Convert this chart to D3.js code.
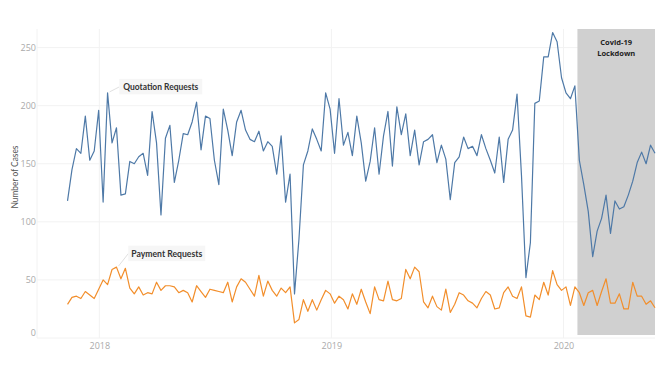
<!DOCTYPE html>
<html>
<head>
<meta charset="utf-8">
<script src="https://cdn.jsdelivr.net/npm/d3@7"></script>
<style>
  body { margin: 0; background: #fff; }
  svg { display: block; font-family: "Open Sans", sans-serif; }
</style>
</head>
<body>
<svg id="chart" width="660" height="370"></svg>
<script>
// Weekly counts, first week starting 2017-11-12
const quotationRequests = [
  118, 145, 163, 159, 191, 153, 161, 196, 117, 211, 168, 181, 123, 124, 152, 150,
  156, 159, 140, 195, 168, 106, 172, 183, 134, 153, 176, 175, 186, 203, 162, 191,
  189, 153, 132, 197, 179, 157, 186, 196, 179, 171, 169, 178, 161, 169, 165, 141,
  174, 117, 141, 38, 85, 149, 161, 180, 171, 161, 211, 197, 159, 206, 166, 177,
  157, 191, 168, 135, 152, 181, 141, 174, 195, 148, 199, 175, 193, 157, 179, 149,
  169, 171, 175, 151, 166, 154, 119, 151, 156, 173, 163, 165, 157, 175, 163, 153,
  142, 173, 134, 171, 179, 210, 140, 52, 82, 202, 204, 242, 242, 263, 255, 224,
  211, 206, 217, 153, 132, 109, 70, 92, 103, 123, 90, 118, 111, 113, 123, 135,
  151, 160, 150, 166, 159
];
const paymentRequests = [
  29, 35, 36, 34, 40, 37, 34, 42, 50, 46, 59, 61, 51, 60, 43, 38,
  44, 37, 39, 38, 48, 41, 45, 45, 44, 39, 41, 39, 31, 45, 40, 35,
  42, 41, 40, 39, 48, 31, 44, 51, 48, 42, 36, 54, 36, 49, 41, 36,
  43, 39, 44, 13, 16, 33, 23, 33, 24, 33, 41, 38, 30, 36, 33, 25,
  38, 29, 42, 31, 21, 44, 33, 32, 49, 33, 32, 34, 59, 51, 61, 57,
  31, 26, 36, 27, 24, 42, 22, 29, 39, 37, 32, 30, 26, 34, 40, 37,
  25, 26, 39, 44, 36, 34, 44, 19, 18, 37, 33, 48, 37, 58, 46, 41,
  44, 28, 44, 39, 28, 39, 41, 28, 40, 51, 30, 30, 38, 25, 25, 48,
  36, 36, 29, 32, 26
];
const weeks = d3.utcWeek.range(new Date(Date.UTC(2017, 10, 12)), new Date(Date.UTC(2020, 4, 25)));
const yTicks = [0, 50, 100, 150, 200, 250];
const yearTicks = [2018, 2019, 2020].map(yr => new Date(Date.UTC(yr, 0, 1)));
const lockdownStart = new Date(Date.UTC(2020, 0, 23));

const svg = d3.select("#chart");
const plotLeft = 37, plotRight = 655, plotTop = 29, plotBottom = 338;

const x = d3.scaleUtc()
    .domain([new Date(Date.UTC(2017, 8, 25)), new Date(Date.UTC(2020, 4, 24))])
    .range([plotLeft, plotRight]);
const y = d3.scaleLinear().domain([0, 266]).range([plotBottom, plotTop]);

// gridlines
svg.append("g").selectAll("line").data(yTicks).join("line")
    .attr("x1", plotLeft).attr("x2", plotRight)
    .attr("y1", d => y(d)).attr("y2", d => y(d))
    .attr("stroke", "#f2f2f2").attr("stroke-width", 1);
svg.append("g").selectAll("line").data(yearTicks).join("line")
    .attr("x1", d => x(d)).attr("x2", d => x(d))
    .attr("y1", plotTop).attr("y2", plotBottom)
    .attr("stroke", "#f2f2f2").attr("stroke-width", 1);
svg.append("line")
    .attr("x1", plotLeft).attr("x2", plotLeft).attr("y1", plotTop).attr("y2", plotBottom)
    .attr("stroke", "#f2f2f2");

// lockdown shading
svg.append("rect")
    .attr("x", x(lockdownStart)).attr("y", plotTop)
    .attr("width", plotRight - x(lockdownStart)).attr("height", plotBottom - plotTop - 3)
    .attr("fill", "#d0d0d0");
const lockX = (x(lockdownStart) + plotRight) / 2;
const lockText = svg.append("text")
    .attr("x", lockX).attr("y", 45)
    .attr("text-anchor", "middle")
    .style("font-size", "7.5px").style("font-weight", "bold").attr("fill", "#222");
lockText.append("tspan").attr("x", lockX).text("Covid-19");
lockText.append("tspan").attr("x", lockX).attr("dy", 10.5).text("Lockdown");

// axes
const yAxis = svg.append("g")
    .attr("transform", `translate(${plotLeft},0)`)
    .call(d3.axisLeft(y).tickValues(yTicks).tickSize(0).tickPadding(1));
yAxis.select(".domain").remove();
yAxis.selectAll("text")
    .attr("fill", "#aaa").style("font-size", "9px").style("font-family", "'Open Sans', sans-serif")
    .attr("dy", d => d === 0 ? "-0.25em" : "0.32em");

const xAxis = svg.append("g")
    .attr("transform", `translate(0,${plotBottom})`)
    .call(d3.axisBottom(x).tickValues(yearTicks).tickFormat(d3.utcFormat("%Y")).tickSize(0).tickPadding(5));
xAxis.select(".domain").remove();
xAxis.selectAll("text")
    .attr("fill", "#aaa").style("font-size", "9px").style("font-family", "'Open Sans', sans-serif");

svg.append("text")
    .attr("transform", "translate(15,177) rotate(-90)")
    .attr("text-anchor", "middle")
    .attr("dy", "0.35em")
    .attr("textLength", 63).attr("lengthAdjust", "spacingAndGlyphs")
    .style("font-size", "9.5px").style("font-family", "Lato, sans-serif").attr("fill", "#555")
    .text("Number of Cases");

// lines
const line = d3.line().x((d, i) => x(weeks[i])).y(d => y(d));
svg.append("path").datum(quotationRequests)
    .attr("d", line).attr("fill", "none")
    .attr("stroke", "#4e79a7").attr("stroke-width", 1.2).attr("stroke-linejoin", "round");
svg.append("path").datum(paymentRequests)
    .attr("d", line).attr("fill", "none")
    .attr("stroke", "#f28e2b").attr("stroke-width", 1.2).attr("stroke-linejoin", "round");

// annotations
function annotate(idx, series, label, dx, dy, boxW, textW) {
  const px = x(weeks[idx]), py = y(series[idx]);
  const bx = px + dx, by = py + dy;
  svg.append("line")
      .attr("x1", px + 2).attr("y1", py - 1).attr("x2", bx).attr("y2", by + 8)
      .attr("stroke", "#d8d8d8").attr("stroke-width", 0.8);
  svg.append("rect")
      .attr("x", bx).attr("y", by)
      .attr("width", boxW).attr("height", 15.5)
      .attr("fill", "#f6f6f6");
  svg.append("text")
      .attr("x", bx + boxW / 2).attr("y", by + 8)
      .attr("text-anchor", "middle").attr("dy", "0.35em")
      .attr("textLength", textW).attr("lengthAdjust", "spacingAndGlyphs")
      .style("font-size", "9.5px").style("font-weight", "bold")
      .style("font-family", "Lato, sans-serif").attr("fill", "#333")
      .text(label);
}
annotate(9, quotationRequests, "Quotation Requests", 11.7, -14, 83, 75);
annotate(11, paymentRequests, "Payment Requests", 11.8, -21.5, 77, 71);
</script>
</body>
</html>
